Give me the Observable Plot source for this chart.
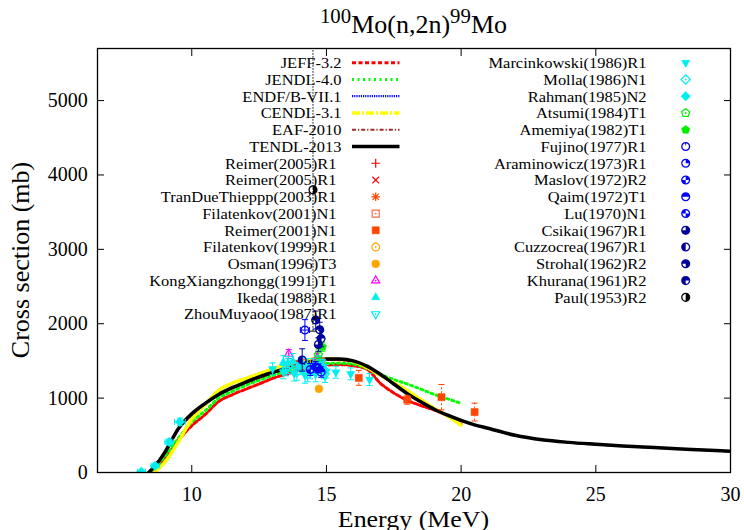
<!DOCTYPE html>
<html><head><meta charset="utf-8">
<script src="https://cdn.jsdelivr.net/npm/d3@7"></script>
<script src="https://cdn.jsdelivr.net/npm/@observablehq/plot@0.6"></script>
<style>
body{margin:0;background:#fff;}
svg, svg text, svg tspan{font-family:"Liberation Serif","Times New Roman",serif !important;}
</style>
</head><body><div id="chart"></div>
<script>
// ================= DATA =================
const xTicks = [10, 15, 20, 25, 30];
const yTicks = [0, 1000, 2000, 3000, 4000, 5000];

// ---- evaluated libraries: energy (MeV) / cross section (mb)
const jeffE  = [8.5, 8.8, 9.0, 9.5, 10.0, 10.5, 11.0, 11.5, 12.0, 12.5, 13.0, 13.5, 14.0, 14.5, 15.0, 15.5, 16.0, 16.5, 17.0, 17.5, 18.0, 18.5, 19.0, 19.5, 20.0];
const jeffXS = [0, 110, 200, 430, 630, 780, 955, 1045, 1120, 1190, 1265, 1320, 1375, 1420, 1445, 1450, 1435, 1390, 1200, 1070, 970, 900, 840, 760, 650];

const jendlE  = [8.5, 9.0, 9.5, 10.0, 10.5, 11.0, 11.5, 12.0, 12.5, 13.0, 13.5, 14.0, 14.5, 15.0, 15.5, 16.0, 16.5, 17.0, 17.5, 18.0, 18.5, 19.0, 19.5, 20.0];
const jendlXS = [0, 220, 460, 680, 830, 1000, 1090, 1170, 1240, 1305, 1360, 1405, 1440, 1465, 1470, 1455, 1400, 1320, 1250, 1190, 1120, 1050, 990, 930];

const endfE  = [8.6, 9.0, 9.5, 10.0, 10.5, 11.0, 11.5, 12.0, 12.5, 13.0, 13.5, 14.0, 14.5, 15.0, 15.5, 16.0, 16.5, 17.0, 17.5, 18.0, 18.5, 19.0, 19.5, 20.0];
const endfXS = [0, 150, 420, 720, 920, 1110, 1200, 1265, 1330, 1395, 1450, 1490, 1515, 1530, 1520, 1490, 1410, 1305, 1200, 1100, 980, 860, 760, 640];

const cendlE  = [8.6, 9.0, 9.5, 10.0, 10.5, 11.0, 11.5, 12.0, 12.5, 13.0, 13.5, 14.0, 14.5, 15.0, 15.5, 16.0, 16.5, 17.0, 17.5, 18.0, 18.5, 19.0, 19.5, 20.0];
const cendlXS = [0, 140, 410, 715, 915, 1105, 1200, 1262, 1328, 1392, 1448, 1488, 1512, 1528, 1520, 1492, 1412, 1308, 1205, 1102, 982, 862, 760, 635];

const eafE  = [8.45, 8.7, 9.0, 9.5, 10.0, 10.5, 11.0, 12.0, 13.0, 14.0, 15.0, 16.0, 17.0, 18.0, 19.0, 20.0, 21.0, 22.0, 24.0, 26.0, 28.0, 30.0];
const eafXS = [0, 110, 260, 570, 770, 920, 1040, 1205, 1335, 1440, 1515, 1495, 1315, 1055, 845, 695, 590, 500, 402, 355, 318, 283];

const tendlE  = [8.4, 8.6, 9.0, 9.2, 9.5, 10.0, 10.5, 11.0, 11.5, 12.0, 12.5, 13.0, 13.5, 14.0, 14.5, 15.0, 15.5, 16.0, 16.5, 17.0, 17.5, 18.0, 18.5, 19.0, 19.5, 20.0, 20.5, 21.0, 22.0, 23.0, 24.0, 25.0, 26.0, 27.0, 28.0, 29.0, 30.0];
const tendlXS = [0, 75, 270, 400, 590, 790, 930, 1050, 1140, 1215, 1285, 1345, 1400, 1450, 1495, 1525, 1525, 1500, 1430, 1320, 1190, 1060, 950, 850, 770, 700, 640, 595, 500, 440, 405, 380, 357, 338, 320, 302, 285];

const evalNames = ["JEFF-3.2", "JENDL-4.0", "ENDF/B-VII.1", "CENDL-3.1", "EAF-2010", "TENDL-2013"];

// ---- experiments: [E (MeV), xs (mb), d xs (mb), d E (MeV)]
const reimer2005a     = [[13.9, 1440, 60]];
const reimer2005b     = [[14.8, 1410, 60]];
const tranDue2003     = [[14.6, 1445, 70]];
const filatenkov2001  = [[14.1, 1470, 60], [14.8, 1480, 60]];
const reimer2001      = [[16.2, 1272, 100], [18.0, 978, 60], [19.27, 1013, 170], [20.5, 812, 120]];
const filatenkov1999  = [[13.74, 1450, 50], [14.54, 1490, 50]];
const osman1996       = [[14.72, 1125, 0]];
const kong1991        = [[13.6, 1594, 60], [14.66, 1545, 60]];
const ikeda1988       = [[13.4, 1480, 90], [13.57, 1470, 90], [13.75, 1500, 100], [14.06, 1455, 90], [14.3, 1430, 100], [14.51, 1440, 90], [14.7, 1460, 100], [14.87, 1430, 90]];
const zhou1987        = [[13.5, 1380, 80], [13.9, 1400, 80], [14.1, 1395, 80], [14.4, 1350, 90], [14.8, 1410, 80], [14.95, 1300, 90]];
const marcinkowski1986= [[13.0, 1393, 80], [13.4, 1350, 90], [13.8, 1330, 100], [14.2, 1310, 110], [14.6, 1320, 100], [15.0, 1360, 90], [15.35, 1348, 80], [15.9, 1326, 80], [16.6, 1250, 80]];
const molla1986       = [[13.57, 1430, 100], [13.9, 1350, 110], [14.1, 1450, 100], [14.3, 1320, 100], [14.7, 1470, 100], [14.9, 1380, 120]];
const rahman1985      = [[8.13, 10, 10, 0.15], [8.64, 90, 25, 0.15], [9.16, 410, 40, 0.15], [9.56, 680, 50, 0.2]];
const atsumi1984      = [[14.7, 1580, 80]];
const amemiya1982     = [[14.85, 1690, 60]];
const fujino1977      = [[14.2, 1915, 140, 0.17]];
const araminowicz1973 = [[14.7, 1400, 60]];
const maslov1972      = [[14.4, 1385, 80]];
const qaim1972        = [[14.8, 1350, 70]];
const lu1970          = [[14.6, 1420, 70]];
const csikai1967      = [[14.7, 1720, 90]];
const cuzzocrea1967   = [[14.1, 1513, 150]];
const strohal1962     = [[14.6, 2050, 120], [14.75, 1920, 100]];
const khurana1961     = [[14.8, 1800, 110]];
const paul1953        = [[14.5, 3800, 1900]];

const expNames = ["Reimer(2005)R1", "Reimer(2005)R1", "TranDueThieppp(2003)R1", "Filatenkov(2001)N1", "Reimer(2001)N1",
  "Filatenkov(1999)R1", "Osman(1996)T3", "KongXiangzhongg(1991)T1", "Ikeda(1988)R1", "ZhouMuyaoo(1987)R1",
  "Marcinkowski(1986)R1", "Molla(1986)N1", "Rahman(1985)N2", "Atsumi(1984)T1", "Amemiya(1982)T1",
  "Fujino(1977)R1", "Araminowicz(1973)R1", "Maslov(1972)R2", "Qaim(1972)T1", "Lu(1970)N1",
  "Csikai(1967)R1", "Cuzzocrea(1967)R1", "Strohal(1962)R2", "Khurana(1961)R2", "Paul(1953)R2"];

// ================= STYLES =================
const evalData = [[jeffE, jeffXS], [jendlE, jendlXS], [endfE, endfXS], [cendlE, cendlXS], [eafE, eafXS], [tendlE, tendlXS]];
const evalStyles = [
  {color: "#ff0000", width: 3, dash: "4,2.5"},
  {color: "#00ff00", width: 3, dash: "2,3.5"},
  {color: "#0000ff", width: 2.2, dash: "1.2,1"},
  {color: "#ffff00", width: 3.5, dash: "8,2,2,2"},
  {color: "#a52a2a", width: 2, dash: "4,2,1.2,2"},
  {color: "#000000", width: 3.5, dash: null}
];
const expData = [reimer2005a, reimer2005b, tranDue2003, filatenkov2001, reimer2001, filatenkov1999, osman1996, kong1991,
  ikeda1988, zhou1987, marcinkowski1986, molla1986, rahman1985, atsumi1984, amemiya1982, fujino1977, araminowicz1973,
  maslov1972, qaim1972, lu1970, csikai1967, cuzzocrea1967, strohal1962, khurana1961, paul1953];
const CY = "#00eeee", BL = "#0000ff", NV = "#00009c";
const expStyles = [
  {color: "#ff0000", shape: "plus", mode: "line"},
  {color: "#ff0000", shape: "times", mode: "line"},
  {color: "#ff4500", shape: "star", mode: "line"},
  {color: "#ff6a4a", shape: "square", mode: "opendot"},
  {color: "#ff4500", shape: "square", mode: "fill", barDash: "2,2"},
  {color: "#ffa500", shape: "circle", mode: "opendot"},
  {color: "#ffa500", shape: "circle", mode: "fill"},
  {color: "#ff00ff", shape: "tri", mode: "opendot"},
  {color: CY, shape: "tri", mode: "fill"},
  {color: CY, shape: "itri", mode: "opendot"},
  {color: CY, shape: "itri", mode: "fill"},
  {color: CY, shape: "diamond", mode: "opendot"},
  {color: CY, shape: "diamond", mode: "fill"},
  {color: "#00ee00", shape: "pentagon", mode: "opendot"},
  {color: "#00ee00", shape: "pentagon", mode: "fill"},
  {color: BL, mode: "wedge", wedge: [[-100, -80]]},
  {color: BL, mode: "wedge", wedge: [[-90, 0]]},
  {color: BL, mode: "wedge", wedge: [[-90, 0], [90, 180]]},
  {color: BL, mode: "wedge", wedge: [[180, 360]]},
  {color: BL, mode: "wedge", wedge: [[0, 90], [180, 270]]},
  {color: NV, mode: "wedge", wedge: [[-90, 180]]},
  {color: NV, mode: "wedge", wedge: [[90, 270]]},
  {color: NV, mode: "wedge", wedge: [[-180, 90]]},
  {color: NV, mode: "wedge", wedge: [[90, 360]]},
  {color: "#000000", mode: "wedge", wedge: [[-90, 90]], barDash: "1.5,1.5"}
];

// ================= SYMBOLS =================
const R = 3.9;
const rr = s => Math.sqrt(s / Math.PI);
const shapes = {
  plus: {draw(c, s) {const r = rr(s) * 1.15; c.moveTo(-r, 0); c.lineTo(r, 0); c.moveTo(0, -r); c.lineTo(0, r);}},
  times: {draw(c, s) {const r = rr(s) * 0.85; c.moveTo(-r, -r); c.lineTo(r, r); c.moveTo(-r, r); c.lineTo(r, -r);}},
  star: {draw(c, s) {const r = rr(s) * 1.1, q = r * 0.72; c.moveTo(-r, 0); c.lineTo(r, 0); c.moveTo(0, -r); c.lineTo(0, r); c.moveTo(-q, -q); c.lineTo(q, q); c.moveTo(-q, q); c.lineTo(q, -q);}},
  square: {draw(c, s) {const r = rr(s) * 0.9; c.moveTo(-r, -r); c.lineTo(r, -r); c.lineTo(r, r); c.lineTo(-r, r); c.closePath();}},
  circle: {draw(c, s) {const r = rr(s); c.moveTo(r, 0); c.arc(0, 0, r, 0, 2 * Math.PI); c.closePath();}},
  tri: {draw(c, s) {const r = rr(s) * 1.2; c.moveTo(0, -r); c.lineTo(r * 0.866, r * 0.5); c.lineTo(-r * 0.866, r * 0.5); c.closePath();}},
  itri: {draw(c, s) {const r = rr(s) * 1.2; c.moveTo(0, r); c.lineTo(r * 0.866, -r * 0.5); c.lineTo(-r * 0.866, -r * 0.5); c.closePath();}},
  diamond: {draw(c, s) {const r = rr(s) * 1.2; c.moveTo(0, -r); c.lineTo(r, 0); c.lineTo(0, r); c.lineTo(-r, 0); c.closePath();}},
  pentagon: {draw(c, s) {const r = rr(s) * 1.1; for (let k = 0; k < 5; k++) {const a = (-90 + 72 * k) * Math.PI / 180; k ? c.lineTo(r * Math.cos(a), r * Math.sin(a)) : c.moveTo(r * Math.cos(a), r * Math.sin(a));} c.closePath();}},
  capH: {draw(c, s) {const r = rr(s); c.moveTo(-r, 0); c.lineTo(r, 0);}},
  capV: {draw(c, s) {const r = rr(s); c.moveTo(0, -r); c.lineTo(0, r);}}
};
function wedge(ranges) {
  return {draw(c, s) {const r = rr(s); for (const [a0, a1] of ranges) {c.moveTo(0, 0); c.arc(0, 0, r, a0 * Math.PI / 180, a1 * Math.PI / 180); c.closePath();}}};
}

function symbolMarks(rows, st) {
  const base = {x: "E", y: "xs", r: R, clip: true};
  const m = [];
  if (st.mode === "fill") {
    m.push(Plot.dot(rows, {...base, symbol: shapes[st.shape], fill: st.color, stroke: st.color, strokeWidth: 0.6}));
  } else if (st.mode === "line") {
    m.push(Plot.dot(rows, {...base, symbol: shapes[st.shape], fill: "none", stroke: st.color, strokeWidth: 1.2}));
  } else if (st.mode === "opendot") {
    m.push(Plot.dot(rows, {...base, symbol: shapes[st.shape], fill: "none", stroke: st.color, strokeWidth: 1.2}));
    m.push(Plot.dot(rows, {...base, r: 0.9, symbol: shapes.circle, fill: st.color, stroke: "none"}));
  } else if (st.mode === "wedge") {
    m.push(Plot.dot(rows, {...base, symbol: shapes.circle, fill: "none", stroke: st.color, strokeWidth: 1.3}));
    m.push(Plot.dot(rows, {...base, symbol: wedge(st.wedge), fill: st.color, stroke: "none"}));
  }
  return m;
}

// ================= PLOT =================
const marks = [];
evalNames.forEach((name, i) => {
  const [E, XS] = evalData[i];
  const rows = E.map((e, j) => ({E: e, xs: XS[j]}));
  const st = evalStyles[i];
  marks.push(Plot.line(rows, {x: "E", y: "xs", stroke: st.color, strokeWidth: st.width, strokeDasharray: st.dash, curve: "monotone-x", clip: true}));
});
expNames.forEach((name, i) => {
  const st = expStyles[i];
  const rows = expData[i].map(([E, xs, dxs = 0, dE = 0]) => ({E, xs, lo: xs - dxs, hi: xs + dxs, E0: E - dE, E1: E + dE, dxs, dE}));
  const wy = rows.filter(d => d.dxs > 0);
  const wx = rows.filter(d => d.dE > 0);
  const bar = {stroke: st.color, strokeWidth: 1, clip: true};
  marks.push(Plot.ruleX(wy, {x: "E", y1: "lo", y2: "hi", ...bar, strokeDasharray: st.barDash}));
  marks.push(Plot.dot(wy, {x: "E", y: "lo", symbol: shapes.capH, r: 3, fill: "none", ...bar}));
  marks.push(Plot.dot(wy, {x: "E", y: "hi", symbol: shapes.capH, r: 3, fill: "none", ...bar}));
  marks.push(Plot.ruleY(wx, {y: "xs", x1: "E0", x2: "E1", ...bar}));
  marks.push(Plot.dot(wx, {x: "E0", y: "xs", symbol: shapes.capV, r: 3, fill: "none", ...bar}));
  marks.push(Plot.dot(wx, {x: "E1", y: "xs", symbol: shapes.capV, r: 3, fill: "none", ...bar}));
  marks.push(...symbolMarks(rows, st));
});

const FONT = "'Liberation Serif', 'Times New Roman', serif";
const chart = Plot.plot({
  width: 744, height: 530,
  marginLeft: 97, marginRight: 14, marginTop: 48, marginBottom: 58,
  style: {fontFamily: FONT, background: "white", color: "black"},
  x: {domain: [6.5, 30], label: null},
  y: {domain: [0, 5700], label: null},
  marks: [
    ...marks,
    Plot.axisX(xTicks, {anchor: "bottom", tickSize: -7, tickPadding: 21, fontSize: 20, tickFormat: "d", label: null}),
    Plot.axisX(xTicks, {anchor: "top", tickSize: -7, tickFormat: () => "", label: null}),
    Plot.axisY(yTicks, {anchor: "left", tickSize: -7, tickPadding: 16.7, fontSize: 20, tickFormat: "d", label: null}),
    Plot.axisY(yTicks, {anchor: "right", tickSize: -7, tickFormat: () => "", label: null}),
    Plot.frame({stroke: "black", strokeWidth: 1.3})
  ]
});
document.getElementById("chart").appendChild(chart);

// ================= TEXT: title, axis titles, legend =================
const svg = d3.select(chart);
const title = svg.append("text").attr("x", 413.5).attr("y", 33).attr("text-anchor", "middle")
  .attr("font-size", 26).attr("fill", "black");
title.append("tspan").attr("font-size", 20.8).attr("dy", -10).text("100");
title.append("tspan").attr("dy", 10).text("Mo(n,2n)");
title.append("tspan").attr("font-size", 20.8).attr("dy", -10).text("99");
title.append("tspan").attr("dy", 10).text("Mo");

svg.append("text").attr("transform", "translate(413.5,526.5) scale(1.08,1)").attr("text-anchor", "middle")
  .attr("font-size", 24).attr("fill", "black").text("Energy (MeV)");
svg.append("text").attr("transform", "translate(29,260) rotate(-90)").attr("text-anchor", "middle")
  .attr("font-size", 26).attr("fill", "black").text("Cross section (mb)");

const LF = 15.1, LS = 1.09;   // legend font size and horizontal stretch
const leg = svg.append("g").attr("font-size", LF).attr("fill", "black");
const rowY = i => 62.7 + 16.76 * i;
function legendSymbol(g, st, x, y) {
  const size = Math.PI * R * R;
  const tr = `translate(${x},${y})`;
  const p = (t, sz = size) => g.append("path").attr("d", d3.symbol(t, sz)()).attr("transform", tr);
  if (st.mode === "fill") p(shapes[st.shape]).attr("fill", st.color).attr("stroke", st.color).attr("stroke-width", 0.6);
  else if (st.mode === "line") p(shapes[st.shape]).attr("fill", "none").attr("stroke", st.color).attr("stroke-width", 1.2);
  else if (st.mode === "opendot") {
    p(shapes[st.shape]).attr("fill", "none").attr("stroke", st.color).attr("stroke-width", 1.2);
    p(shapes.circle, Math.PI * 0.81).attr("fill", st.color);
  } else if (st.mode === "wedge") {
    p(shapes.circle).attr("fill", "none").attr("stroke", st.color).attr("stroke-width", 1.3);
    p(wedge(st.wedge)).attr("fill", st.color);
  }
}
function legendText(g, x, y, s) {
  g.append("text").attr("transform", `translate(${x},${y + 5.3}) scale(${LS},1)`).attr("text-anchor", "end").text(s);
}
evalNames.forEach((name, i) => {
  const y = rowY(i), st = evalStyles[i];
  legendText(leg, 341.5, y, name);
  leg.append("line").attr("x1", 352).attr("x2", 399.5).attr("y1", y).attr("y2", y)
    .attr("stroke", st.color).attr("stroke-width", st.width).attr("stroke-dasharray", st.dash);
});
expNames.forEach((name, i) => {
  const left = i < 10;
  const y = left ? rowY(6 + i) : rowY(i - 10);
  legendText(leg, left ? 336.5 : 646.5, y, name);
  legendSymbol(leg, expStyles[i], left ? 375.7 : 685.7, y);
});
</script>
</body></html>
